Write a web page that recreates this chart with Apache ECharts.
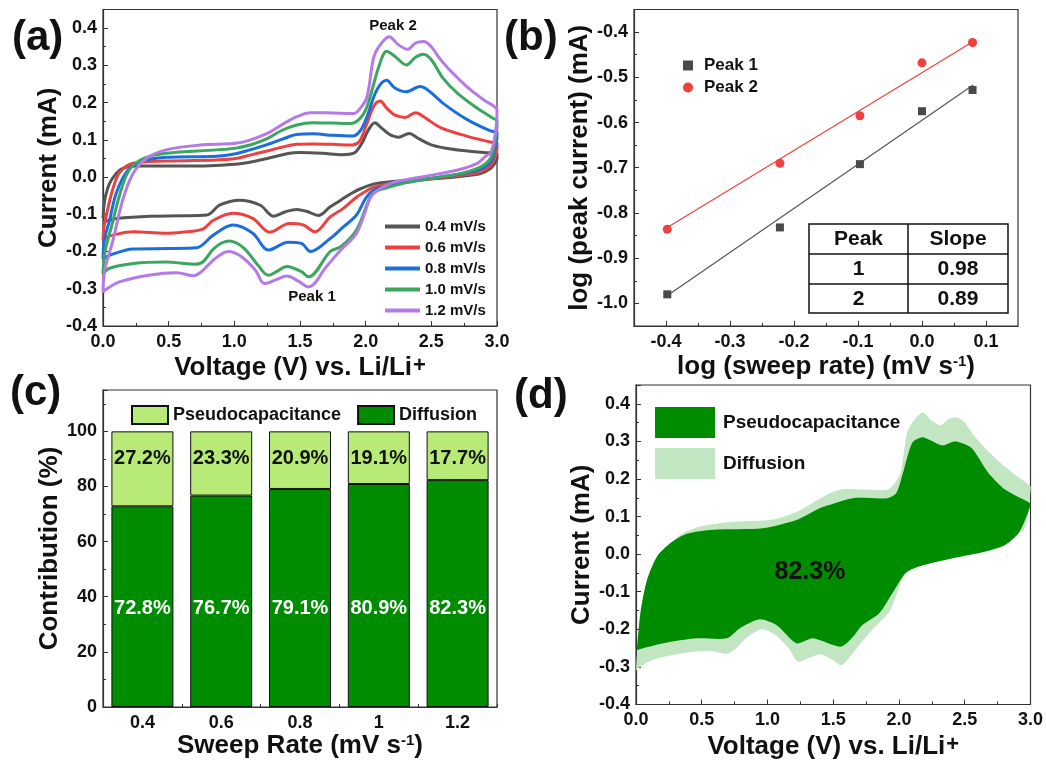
<!DOCTYPE html>
<html>
<head>
<meta charset="utf-8">
<script src="https://cdn.jsdelivr.net/npm/echarts@6/dist/echarts.min.js"></script>
<style>
html,body{margin:0;padding:0;background:#fff;}
#main{width:1046px;height:761px;}
</style>
</head>
<body>
<div id="main"></div>
<script>
// ---------------- DATA ----------------
// (a) CV curves: [voltage, current] traced around each loop (anodic branch, then cathodic branch)
const cvNames = ['0.4 mV/s', '0.6 mV/s', '0.8 mV/s', '1.0 mV/s', '1.2 mV/s'];
const cv04 = [[0.0,-0.11],[0.01,-0.07],[0.025,-0.043],[0.05,-0.017],[0.09,0.005],[0.15,0.023],[0.25,0.03],[0.5,0.03],[0.74,0.03],[0.9,0.032],[1.07,0.037],[1.25,0.05],[1.42,0.064],[1.5,0.066],[1.67,0.064],[1.82,0.06],[1.91,0.064],[1.97,0.09],[2.02,0.126],[2.07,0.146],[2.12,0.132],[2.18,0.115],[2.25,0.107],[2.33,0.117],[2.4,0.104],[2.49,0.088],[2.6,0.078],[2.72,0.072],[2.9,0.066],[3.0,0.063],
  [3.0,0.05],[2.98,0.035],[2.95,0.023],[2.88,0.01],[2.75,0.003],[2.57,-0.003],[2.31,-0.009],[2.085,-0.017],[1.97,-0.03],[1.89,-0.044],[1.81,-0.062],[1.73,-0.08],[1.64,-0.103],[1.55,-0.092],[1.475,-0.087],[1.39,-0.093],[1.3,-0.105],[1.195,-0.075],[1.04,-0.062],[0.89,-0.075],[0.79,-0.102],[0.6,-0.104],[0.36,-0.105],[0.1,-0.111],[0.04,-0.117],[0.0,-0.12]];
const cv06 = [[0.0,-0.17],[0.01,-0.13],[0.04,-0.08],[0.08,-0.026],[0.13,0.014],[0.23,0.037],[0.48,0.043],[0.865,0.046],[1.0,0.049],[1.12,0.059],[1.25,0.07],[1.36,0.08],[1.475,0.088],[1.6,0.089],[1.75,0.088],[1.88,0.086],[1.95,0.095],[2.0,0.135],[2.06,0.189],[2.11,0.204],[2.16,0.185],[2.22,0.167],[2.3,0.16],[2.38,0.173],[2.45,0.16],[2.57,0.133],[2.77,0.11],[2.95,0.094],[3.0,0.09],
  [3.0,0.075],[2.98,0.05],[2.95,0.03],[2.88,0.015],[2.75,0.006],[2.57,-0.002],[2.31,-0.012],[2.15,-0.02],[2.06,-0.027],[2.03,-0.032],[1.935,-0.053],[1.83,-0.084],[1.73,-0.107],[1.615,-0.147],[1.52,-0.128],[1.42,-0.125],[1.27,-0.148],[1.14,-0.111],[0.99,-0.097],[0.84,-0.116],[0.76,-0.14],[0.6,-0.148],[0.48,-0.151],[0.23,-0.147],[0.076,-0.156],[0.03,-0.162],[0.0,-0.17]];
const cv08 = [[0.0,-0.22],[0.01,-0.17],[0.05,-0.116],[0.1,-0.044],[0.18,0.014],[0.28,0.041],[0.48,0.053],[0.865,0.056],[1.0,0.062],[1.12,0.073],[1.25,0.087],[1.36,0.101],[1.475,0.114],[1.6,0.116],[1.75,0.112],[1.9,0.11],[1.96,0.125],[2.01,0.162],[2.085,0.234],[2.16,0.26],[2.22,0.24],[2.31,0.229],[2.415,0.243],[2.48,0.232],[2.59,0.198],[2.77,0.155],[2.95,0.124],[3.0,0.12],
  [3.0,0.11],[2.98,0.07],[2.95,0.04],[2.88,0.022],[2.75,0.01],[2.57,0.0],[2.31,-0.014],[2.15,-0.025],[2.06,-0.035],[2.0,-0.057],[1.93,-0.102],[1.83,-0.134],[1.73,-0.165],[1.58,-0.2],[1.51,-0.178],[1.41,-0.175],[1.26,-0.196],[1.14,-0.151],[0.99,-0.129],[0.84,-0.156],[0.71,-0.19],[0.5,-0.192],[0.23,-0.193],[0.05,-0.21],[0.0,-0.22]];
const cv10 = [[0.0,-0.26],[0.015,-0.2],[0.064,-0.134],[0.13,-0.044],[0.2,0.019],[0.31,0.05],[0.48,0.064],[0.865,0.073],[1.0,0.077],[1.12,0.086],[1.25,0.103],[1.36,0.125],[1.475,0.14],[1.6,0.146],[1.75,0.145],[1.88,0.144],[1.95,0.155],[2.01,0.189],[2.1,0.296],[2.16,0.338],[2.22,0.325],[2.31,0.301],[2.38,0.322],[2.44,0.33],[2.5,0.315],[2.59,0.265],[2.7,0.225],[2.85,0.185],[2.96,0.16],[3.0,0.15],
  [3.0,0.14],[2.98,0.085],[2.95,0.05],[2.88,0.028],[2.75,0.012],[2.57,0.0],[2.31,-0.015],[2.15,-0.03],[2.07,-0.039],[2.03,-0.057],[1.93,-0.142],[1.81,-0.187],[1.73,-0.2],[1.565,-0.268],[1.51,-0.254],[1.4,-0.24],[1.32,-0.254],[1.26,-0.264],[1.18,-0.237],[1.07,-0.19],[0.96,-0.172],[0.85,-0.19],[0.76,-0.228],[0.69,-0.234],[0.48,-0.228],[0.23,-0.232],[0.05,-0.245],[0.0,-0.26]];
const cv12 = [[0.0,-0.31],[0.013,-0.25],[0.076,-0.17],[0.15,-0.062],[0.23,0.01],[0.33,0.05],[0.48,0.073],[0.74,0.086],[1.04,0.092],[1.25,0.117],[1.36,0.14],[1.475,0.162],[1.58,0.173],[1.75,0.172],[1.91,0.171],[1.96,0.185],[2.01,0.215],[2.06,0.32],[2.1,0.35],[2.18,0.377],[2.25,0.355],[2.32,0.343],[2.38,0.36],[2.44,0.364],[2.5,0.35],[2.56,0.32],[2.62,0.295],[2.77,0.243],[2.9,0.207],[3.0,0.18],
  [3.0,0.17],[2.98,0.1],[2.95,0.065],[2.91,0.055],[2.85,0.037],[2.7,0.019],[2.44,0.001],[2.19,-0.017],[2.06,-0.044],[2.03,-0.06],[1.93,-0.151],[1.81,-0.196],[1.7,-0.241],[1.565,-0.295],[1.49,-0.28],[1.4,-0.266],[1.31,-0.277],[1.23,-0.286],[1.16,-0.25],[1.055,-0.214],[0.955,-0.2],[0.85,-0.22],[0.75,-0.254],[0.69,-0.265],[0.56,-0.257],[0.36,-0.263],[0.13,-0.281],[0.013,-0.304],[0.0,-0.31]];
const cvSeriesData = [cv04, cv06, cv08, cv10, cv12];

// (b) log(sweep rate) vs log(peak current)
const logRate = [-0.398, -0.222, -0.097, 0.0, 0.079];
const logPeak1 = [-0.980, -0.832, -0.692, -0.575, -0.528];
const logPeak2 = [-0.836, -0.690, -0.585, -0.468, -0.423];
const fitLine1 = [[-0.4, -0.985], [0.08, -0.517]];
const fitLine2 = [[-0.4, -0.834], [0.08, -0.421]];
const bTicksX = [-0.4, -0.3, -0.2, -0.1, 0.0, 0.1];
const bMinorX = [-0.35, -0.25, -0.15, -0.05, 0.05];
const bTicksY = [-1.0, -0.9, -0.8, -0.7, -0.6, -0.5, -0.4];
const bMinorY = [-0.95, -0.85, -0.75, -0.65, -0.55, -0.45];
const tableHeader = ['Peak', 'Slope'];
const tablePeaks = ['1', '2'];
const tableSlopes = ['0.98', '0.89'];

// (c) contribution bars
const sweepRates = ['0.4', '0.6', '0.8', '1', '1.2'];
const diffusionPct = [72.8, 76.7, 79.1, 80.9, 82.3];
const pseudoPct = [27.2, 23.3, 20.9, 19.1, 17.7];

// (d) separated CV at 1.2 mV/s: capacitive (inner) loop; total loop = cv12
const capLoop = [[0.0,-0.26],[0.008,-0.246],[0.033,-0.157],[0.083,-0.069],[0.16,-0.006],[0.26,0.029],[0.386,0.054],[0.586,0.065],[0.965,0.069],[1.22,0.091],[1.4,0.123],[1.47,0.131],[1.65,0.149],[1.91,0.149],[1.98,0.163],[2.03,0.216],[2.1,0.296],[2.18,0.311],[2.33,0.289],[2.43,0.3],[2.55,0.283],[2.68,0.216],[2.81,0.171],[3.0,0.135],
  [3.0,0.131],[2.97,0.1],[2.91,0.056],[2.81,0.025],[2.66,0.007],[2.41,-0.011],[2.15,-0.033],[2.05,-0.051],[1.95,-0.104],[1.85,-0.157],[1.72,-0.189],[1.65,-0.22],[1.56,-0.246],[1.4,-0.229],[1.34,-0.224],[1.22,-0.237],[1.07,-0.189],[0.94,-0.173],[0.79,-0.197],[0.69,-0.224],[0.46,-0.224],[0.21,-0.237],[0.008,-0.255],[0.0,-0.26]];
const capPercentText = '82.3%';

// ---------------- STYLE ----------------
const FONT = "'Liberation Sans', Arial, Helvetica, sans-serif";
const TXT = '#111';
const cvColors = ['#555555', '#ef4040', '#1c6ede', '#3aa65e', '#b57ae6'];
const DARKG = '#008c00', LIGHTG = '#b8ea78', PALEG = '#c2e5c2';

const chart = echarts.init(document.getElementById('main'), null, {renderer: 'canvas'});

function lbl(extra) {
  return Object.assign({fontFamily: FONT, fontWeight: 'bold', fontSize: 18, color: TXT}, extra || {});
}
const axisLineStyle = {show: true, onZero: false, lineStyle: {color: '#333', width: 1.2}};
function nameStyle(extra) {
  return Object.assign({fontFamily: FONT, fontWeight: 'bold', fontSize: 26, lineHeight: 26, color: TXT,
    rich: {
      sup: {fontFamily: FONT, fontWeight: 'bold', fontSize: 15, color: TXT, lineHeight: 12, verticalAlign: 'top'},
      supB: {fontFamily: FONT, fontWeight: 'bold', fontSize: 22, color: TXT, lineHeight: 11, verticalAlign: 'top', padding: [0, 0, 0, 1]}
    }}, extra || {});
}
const fmt1 = v => v.toFixed(1);

function cvValueX(grid, gap) {
  return {type: 'value', gridIndex: grid, min: 0, max: 3, interval: 0.5, position: 'bottom',
    name: 'Voltage (V) vs. Li/Li{supB|+}', nameLocation: 'middle', nameGap: gap, nameTextStyle: nameStyle(),
    axisLine: axisLineStyle, axisTick: {show: true, inside: true, length: 5, lineStyle: {color: '#333'}},
    minorTick: {show: true, splitNumber: 2, length: 3, lineStyle: {color: '#333'}},
    axisLabel: lbl({margin: 7, formatter: fmt1}), splitLine: {show: false}};
}
function cvValueY(grid, gap) {
  return {type: 'value', gridIndex: grid, min: -0.4, max: 0.45, interval: 0.1, position: 'left',
    name: 'Current (mA)', nameLocation: 'middle', nameGap: gap, nameTextStyle: nameStyle(),
    axisLine: axisLineStyle, axisTick: {show: true, inside: true, length: 5, lineStyle: {color: '#333'}},
    minorTick: {show: true, splitNumber: 2, length: 3, lineStyle: {color: '#333'}},
    axisLabel: lbl({margin: 6, formatter: fmt1, showMaxLabel: false}), splitLine: {show: false}};
}

function polygonSeries(name, pts, color, xi, yi, z) {
  return {
    type: 'custom', name: name, xAxisIndex: xi, yAxisIndex: yi, coordinateSystem: 'cartesian2d',
    data: [pts[0]], itemStyle: {color: color}, z: z, silent: true,
    renderItem: function (params, api) {
      const points = pts.map(p => api.coord(p));
      return {type: 'polygon', shape: {points: points, smooth: 0.25}, style: {fill: color, stroke: null}};
    }
  };
}

const series = [];
cvSeriesData.forEach((d, i) => {
  series.push({type: 'line', name: cvNames[i], xAxisIndex: 0, yAxisIndex: 0, data: d, smooth: 0.35,
    showSymbol: false, lineStyle: {width: 3, color: cvColors[i]}, itemStyle: {color: cvColors[i]}, z: 2 + i});
});
series.push({type: 'line', name: 'fit1', xAxisIndex: 1, yAxisIndex: 1, data: fitLine1, showSymbol: false,
  lineStyle: {width: 1.2, color: '#555'}, itemStyle: {color: '#555'}, z: 2});
series.push({type: 'line', name: 'fit2', xAxisIndex: 1, yAxisIndex: 1, data: fitLine2, showSymbol: false,
  lineStyle: {width: 1.2, color: '#ef4040'}, itemStyle: {color: '#ef4040'}, z: 2});
series.push({type: 'scatter', name: 'Peak 1', xAxisIndex: 1, yAxisIndex: 1, symbol: 'rect', symbolSize: 8,
  data: logRate.map((x, i) => [x, logPeak1[i]]), itemStyle: {color: '#4a4a4a', opacity: 1}, z: 5});
series.push({type: 'scatter', name: 'Peak 2', xAxisIndex: 1, yAxisIndex: 1, symbol: 'circle', symbolSize: 9,
  data: logRate.map((x, i) => [x, logPeak2[i]]), itemStyle: {color: '#ef4040', opacity: 1}, z: 5});
series.push({type: 'bar', name: 'Diffusion', xAxisIndex: 3, yAxisIndex: 3, stack: 'c', barWidth: 62, data: diffusionPct,
  itemStyle: {color: DARKG, borderColor: '#111', borderWidth: 1},
  label: {show: true, position: 'insideBottom', distance: 89, formatter: '{c}%', fontFamily: FONT, fontWeight: 'bold', fontSize: 20, color: '#fff'}});
series.push({type: 'bar', name: 'Pseudocapacitance', xAxisIndex: 3, yAxisIndex: 3, stack: 'c', barWidth: 62, data: pseudoPct,
  itemStyle: {color: LIGHTG, borderColor: '#111', borderWidth: 1},
  label: {show: true, position: 'insideTop', distance: 17, formatter: '{c}%', fontFamily: FONT, fontWeight: 'bold', fontSize: 20, color: TXT}});
series.push(polygonSeries('Diffusion ', cv12, PALEG, 5, 4, 2));
series.push(polygonSeries('Pseudocapacitance ', capLoop, DARKG, 5, 4, 3));

const graphic = [
  {type: 'text', left: 12, top: 17, z: 100, style: {text: '(a)', font: 'bold 42px ' + FONT, fill: TXT}},
  {type: 'text', left: 504, top: 17, z: 100, style: {text: '(b)', font: 'bold 42px ' + FONT, fill: TXT}},
  {type: 'text', left: 10, top: 372, z: 100, style: {text: '(c)', font: 'bold 42px ' + FONT, fill: TXT}},
  {type: 'text', left: 514, top: 375, z: 100, style: {text: '(d)', font: 'bold 42px ' + FONT, fill: TXT}},
  {type: 'text', x: 393, y: 26, z: 100, style: {text: 'Peak 2', font: 'bold 15px ' + FONT, fill: TXT, align: 'center', verticalAlign: 'middle'}},
  {type: 'text', x: 312, y: 297, z: 100, style: {text: 'Peak 1', font: 'bold 15px ' + FONT, fill: TXT, align: 'center', verticalAlign: 'middle'}},
  {type: 'text', x: 810, y: 572, z: 100, style: {text: capPercentText, font: 'bold 25px ' + FONT, fill: TXT, align: 'center', verticalAlign: 'middle'}},
  // table in (b)
  {type: 'rect', z: 100, shape: {x: 809, y: 224, width: 199, height: 89}, style: {fill: '#fff', stroke: '#111', lineWidth: 1.5}},
  {type: 'line', z: 101, shape: {x1: 809, y1: 254, x2: 1008, y2: 254}, style: {stroke: '#111', lineWidth: 1.5}},
  {type: 'line', z: 101, shape: {x1: 809, y1: 284, x2: 1008, y2: 284}, style: {stroke: '#111', lineWidth: 1.5}},
  {type: 'line', z: 101, shape: {x1: 908, y1: 224, x2: 908, y2: 313}, style: {stroke: '#111', lineWidth: 1.5}}
];
const rowsY = [239, 269, 299];
const colsX = [858.5, 958];
const tableCells = [[tableHeader[0], tableHeader[1]], [tablePeaks[0], tableSlopes[0]], [tablePeaks[1], tableSlopes[1]]];
tableCells.forEach((row, r) => row.forEach((t, c) => {
  graphic.push({type: 'text', x: colsX[c], y: rowsY[r], z: 102,
    style: {text: t, font: 'bold 21px ' + FONT, fill: TXT, align: 'center', verticalAlign: 'middle'}});
}));

const option = {
  animation: false,
  backgroundColor: '#fff',
  textStyle: {fontFamily: FONT},
  grid: [
    {left: 103, top: 9.5, width: 394, height: 316.5, show: true, borderColor: '#333', borderWidth: 1.2},
    {left: 634, top: 9.5, width: 384, height: 316.5, show: true, borderColor: '#333', borderWidth: 1.2},
    {left: 103, top: 390, width: 394, height: 317, show: true, borderColor: '#333', borderWidth: 1.2},
    {left: 636, top: 385, width: 396, height: 319.5, show: true, borderColor: '#333', borderWidth: 1.2}
  ],
  legend: [
    {data: cvNames, orient: 'vertical', left: 380, top: 214, itemWidth: 35, itemHeight: 4, icon: 'rect', itemGap: 6,
      selectedMode: false, textStyle: lbl({fontSize: 15})},
    {data: [{name: 'Peak 1', icon: 'rect'}, {name: 'Peak 2', icon: 'circle'}], orient: 'vertical', left: 678, top: 52,
      itemWidth: 10, itemHeight: 10, itemGap: 5, selectedMode: false, textStyle: lbl({fontSize: 17, padding: [0, 0, 0, 6]})},
    {data: ['Pseudocapacitance', 'Diffusion'], left: 126, top: 400, itemWidth: 36, itemHeight: 18, itemGap: 16,
      icon: 'rect', selectedMode: false, textStyle: lbl({fontSize: 18})},
    {data: [{name: 'Pseudocapacitance ', itemStyle: {color: DARKG}}, {name: 'Diffusion ', itemStyle: {color: PALEG}}],
      orient: 'vertical', left: 650, top: 402, itemWidth: 60, itemHeight: 31, itemGap: 10, icon: 'rect',
      selectedMode: false, textStyle: lbl({fontSize: 19, padding: [0, 0, 0, 3]})}
  ],
  xAxis: [
    cvValueX(0, 29),
    {type: 'value', gridIndex: 1, min: -0.45, max: 0.15, position: 'bottom',
      name: 'log (sweep rate) (mV s{sup|-1})', nameLocation: 'middle', nameGap: 28, nameTextStyle: nameStyle(),
      axisLine: axisLineStyle,
      axisTick: {show: true, inside: true, length: 5, customValues: bTicksX, lineStyle: {color: '#333'}},
      axisLabel: lbl({margin: 7, customValues: bTicksX, formatter: fmt1}), splitLine: {show: false}},
    {type: 'value', gridIndex: 1, min: -0.45, max: 0.15, position: 'bottom', show: true,
      axisLine: {show: false, onZero: false}, axisLabel: {show: false}, splitLine: {show: false},
      axisTick: {show: true, inside: true, length: 3, customValues: bMinorX, lineStyle: {color: '#333'}}},
    {type: 'category', gridIndex: 2, data: sweepRates, position: 'bottom',
      name: 'Sweep Rate (mV s{sup|-1})', nameLocation: 'middle', nameGap: 19, nameTextStyle: nameStyle(),
      axisLine: axisLineStyle, axisTick: {show: true, inside: true, length: 5, alignWithLabel: true, lineStyle: {color: '#333'}},
      axisLabel: lbl({margin: 7})},
    {type: 'category', gridIndex: 2, data: sweepRates, position: 'bottom', show: true,
      axisLine: {show: false, onZero: false}, axisLabel: {show: false},
      axisTick: {show: true, inside: true, length: 3, alignWithLabel: false, lineStyle: {color: '#333'}}},
    cvValueX(3, 29)
  ],
  yAxis: [
    cvValueY(0, 36),
    {type: 'value', gridIndex: 1, min: -1.05, max: -0.35, position: 'left',
      name: 'log (peak current) (mA)', nameLocation: 'middle', nameGap: 39, nameTextStyle: nameStyle(),
      axisLine: axisLineStyle,
      axisTick: {show: true, inside: true, length: 5, customValues: bTicksY, lineStyle: {color: '#333'}},
      axisLabel: lbl({margin: 6, customValues: bTicksY, formatter: fmt1}), splitLine: {show: false}},
    {type: 'value', gridIndex: 1, min: -1.05, max: -0.35, position: 'left', show: true,
      axisLine: {show: false, onZero: false}, axisLabel: {show: false}, splitLine: {show: false},
      axisTick: {show: true, inside: true, length: 3, customValues: bMinorY, lineStyle: {color: '#333'}}},
    {type: 'value', gridIndex: 2, min: 0, max: 115, interval: 20, position: 'left',
      name: 'Contribution (%)', nameLocation: 'middle', nameGap: 29, nameTextStyle: nameStyle(),
      axisLine: axisLineStyle, axisTick: {show: true, inside: true, length: 5, lineStyle: {color: '#333'}},
      minorTick: {show: true, splitNumber: 2, length: 3, lineStyle: {color: '#333'}},
      axisLabel: lbl({margin: 6, showMaxLabel: false}), splitLine: {show: false}},
    cvValueY(3, 37)
  ],
  series: series,
  graphic: graphic
};
chart.setOption(option);
</script>
</body>
</html>
